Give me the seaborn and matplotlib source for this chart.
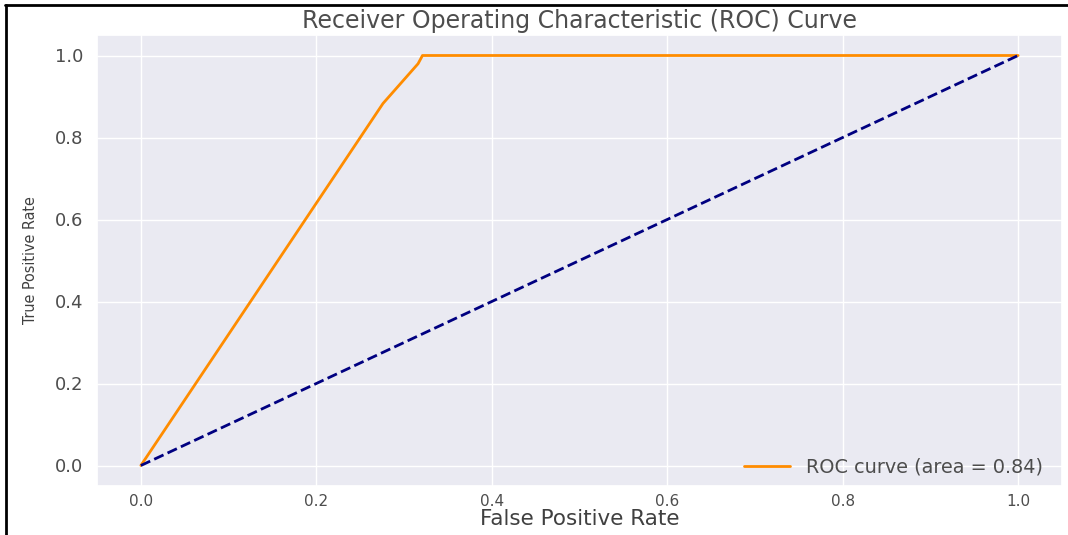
import numpy as np
import pandas as pd
import matplotlib
matplotlib.use("Agg")
import matplotlib.pyplot as plt
import seaborn as sns
from matplotlib.lines import Line2D

# Data
fpr = [0.0, 0.276, 0.316, 0.321, 1.0]
tpr = [0.0, 0.883, 0.980, 1.0, 1.0]
diag_x = [0.0, 1.0]
diag_y = [0.0, 1.0]
roc_auc = 0.84
xticks = [0.0, 0.2, 0.4, 0.6, 0.8, 1.0]
yticks = [0.0, 0.2, 0.4, 0.6, 0.8, 1.0]

sns.set_theme(style="darkgrid")
plt.rcParams['font.family'] = ['DejaVu Sans']

fig = plt.figure(figsize=(10.68, 5.35), dpi=100)
ax = fig.add_axes([97/1068, 49/535, 965/1068, 451/535])

roc_df = pd.DataFrame({"fpr": fpr, "tpr": tpr})
diag_df = pd.DataFrame({"x": diag_x, "y": diag_y})

sns.lineplot(data=roc_df, x="fpr", y="tpr", ax=ax, color="darkorange", lw=2,
             sort=False, estimator=None, label=f"ROC curve (area = {roc_auc:.2f})")
sns.lineplot(data=diag_df, x="x", y="y", ax=ax, color="navy", lw=2,
             linestyle="--", sort=False, estimator=None)

ax.set_xlim(-0.05, 1.05)
ax.set_ylim(-0.05, 1.05)
ax.set_xticks(xticks)
ax.set_yticks(yticks)
ax.set_xticklabels([f"{v:.1f}" for v in xticks], fontsize=11, color=".3")
ax.set_yticklabels([f"{v:.1f}" for v in yticks], fontsize=13, color=".3")
ax.tick_params(axis='y', pad=4)
ax.tick_params(axis='x', pad=0)

ax.set_title("Receiver Operating Characteristic (ROC) Curve", fontsize=17,
             color=".3", pad=5)
ax.set_xlabel("False Positive Rate", fontsize=15.5, color=".25", labelpad=0)
ax.set_ylabel("True Positive Rate", fontsize=11.5, color=".25", labelpad=12,
              fontstretch="condensed")

leg = ax.legend(loc="lower right", frameon=False, fontsize=13.9,
                handlelength=2.4, borderaxespad=0.1, bbox_to_anchor=(0.99, 0.0))
for t in leg.get_texts():
    t.set_color(".3")

# screenshot border
fig.add_artist(Line2D([5/1068, 1.0], [1 - 5/535, 1 - 5/535], color="black", lw=2,
                      transform=fig.transFigure))
fig.add_artist(Line2D([6/1068, 6/1068], [0.0, 1 - 5/535], color="black", lw=2,
                      transform=fig.transFigure))

fig.savefig("out.png", dpi=100)
